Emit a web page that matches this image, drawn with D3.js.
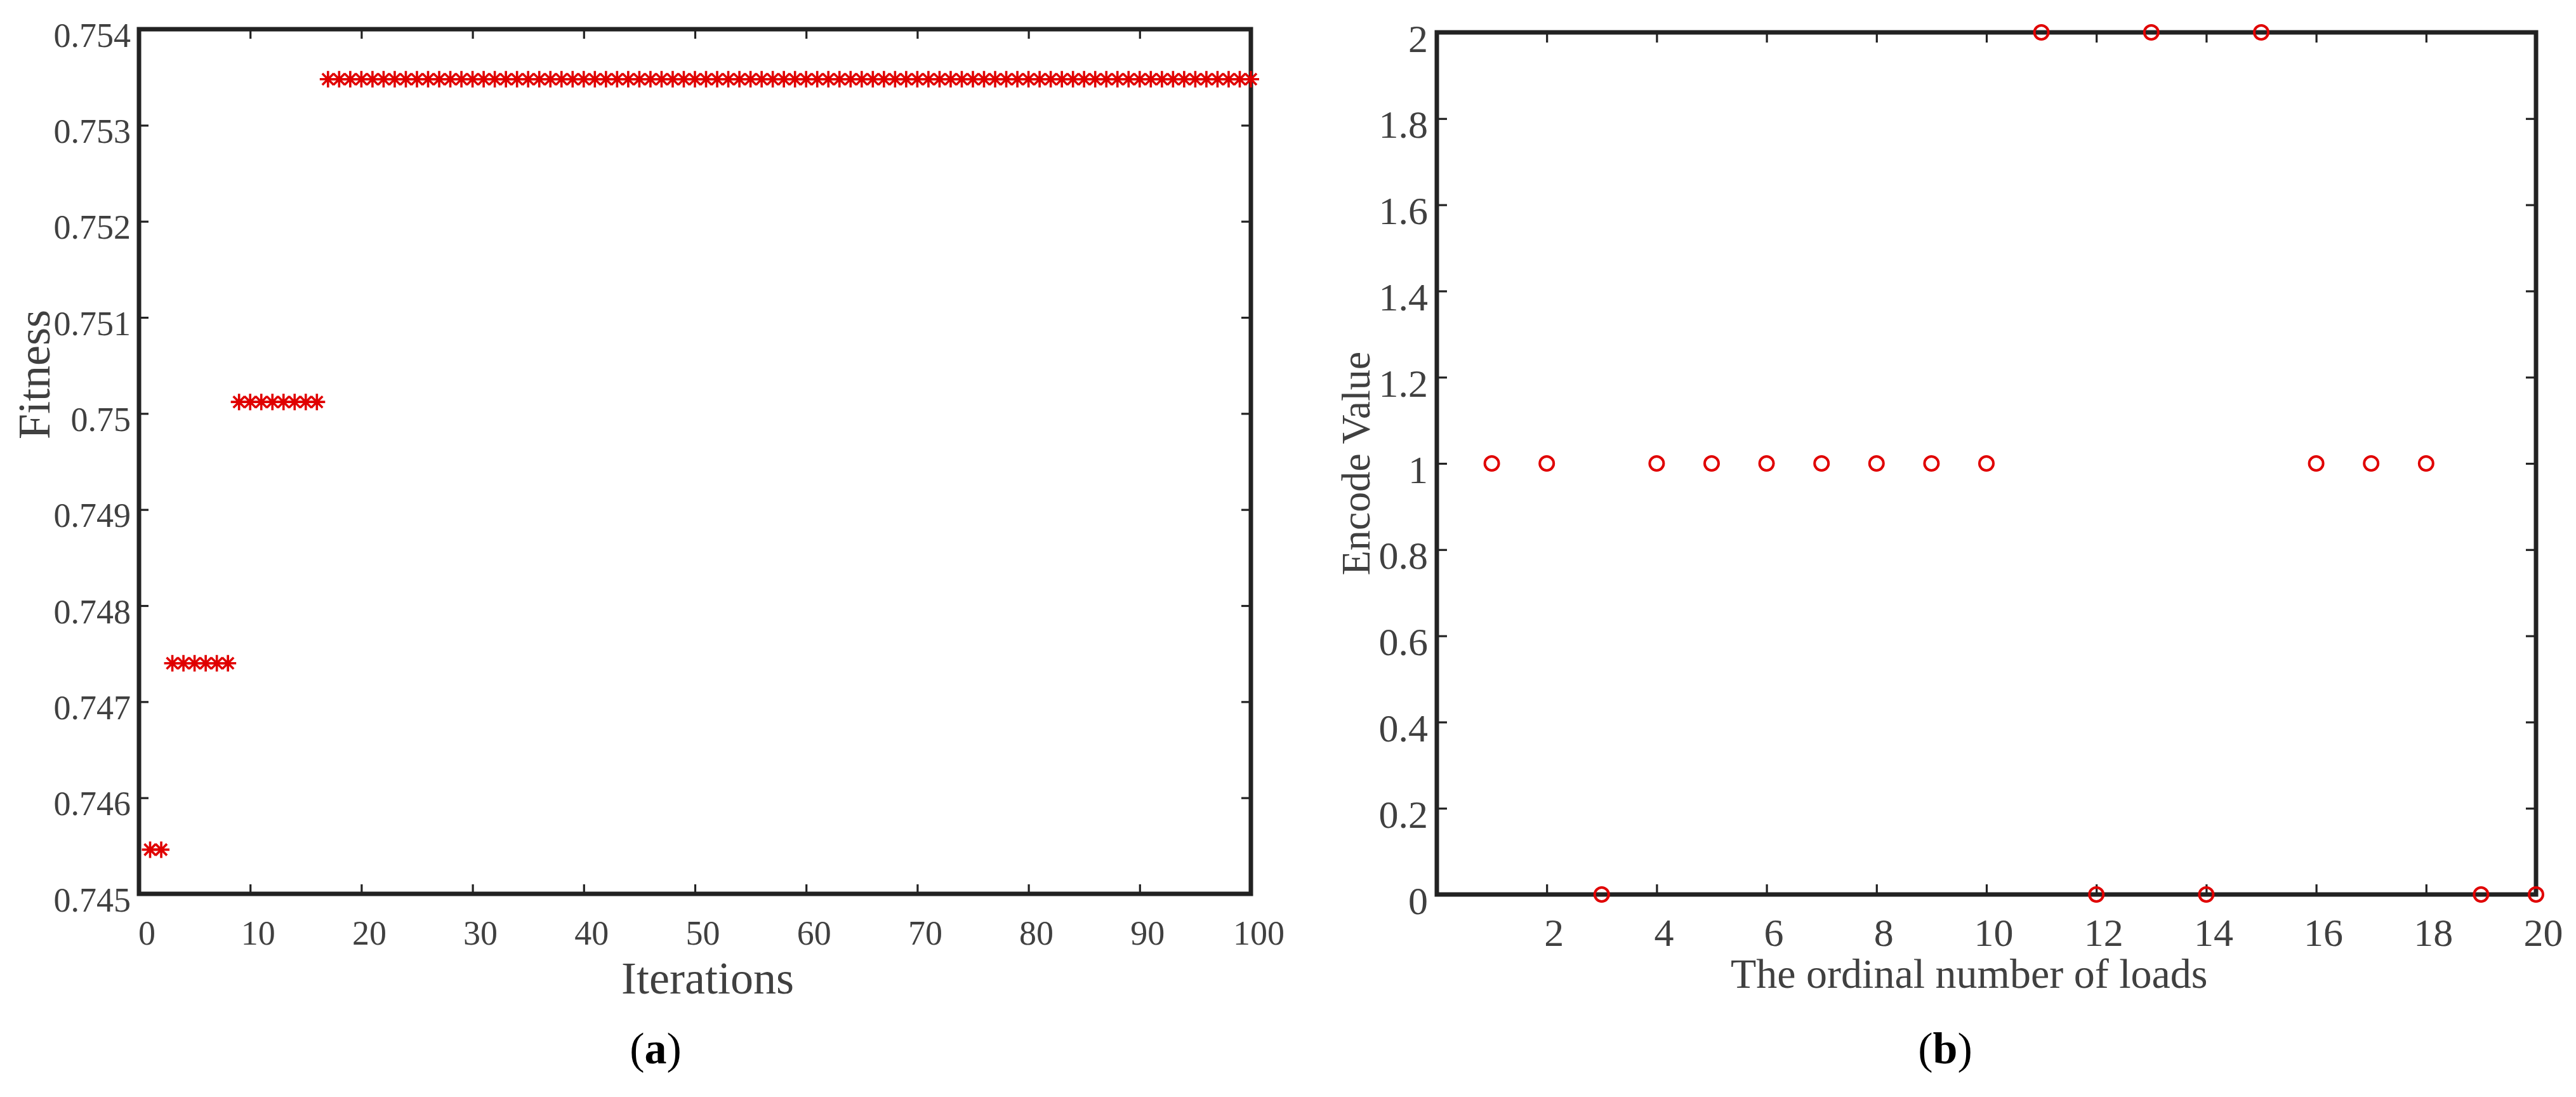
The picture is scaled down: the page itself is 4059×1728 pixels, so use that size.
<!DOCTYPE html>
<html><head><meta charset="utf-8">
<script src="https://cdn.jsdelivr.net/npm/d3@7"></script>
<style>
body{margin:0;background:#fff}
text{font-family:"Liberation Serif","Times New Roman",serif}
</style>
</head><body>
<svg id="c" width="4059" height="1728"></svg>
<script>
// ---- Data: panel (a) ----
const iterations = [1,2,3,4,5,6,7,8,9,10,11,12,13,14,15,16,17,18,19,20,21,22,23,24,25,26,27,28,29,30,31,32,33,34,35,36,37,38,39,40,41,42,43,44,45,46,47,48,49,50,51,52,53,54,55,56,57,58,59,60,61,62,63,64,65,66,67,68,69,70,71,72,73,74,75,76,77,78,79,80,81,82,83,84,85,86,87,88,89,90,91,92,93,94,95,96,97,98,99,100];
const fitness = [
0.74546,0.74546,
0.74740,0.74740,0.74740,0.74740,0.74740,0.74740,
0.75012,0.75012,0.75012,0.75012,0.75012,0.75012,0.75012,0.75012,
0.75348,0.75348,0.75348,0.75348,0.75348,0.75348,0.75348,0.75348,0.75348,0.75348,
0.75348,0.75348,0.75348,0.75348,0.75348,0.75348,0.75348,0.75348,0.75348,0.75348,
0.75348,0.75348,0.75348,0.75348,0.75348,0.75348,0.75348,0.75348,0.75348,0.75348,
0.75348,0.75348,0.75348,0.75348,0.75348,0.75348,0.75348,0.75348,0.75348,0.75348,
0.75348,0.75348,0.75348,0.75348,0.75348,0.75348,0.75348,0.75348,0.75348,0.75348,
0.75348,0.75348,0.75348,0.75348,0.75348,0.75348,0.75348,0.75348,0.75348,0.75348,
0.75348,0.75348,0.75348,0.75348,0.75348,0.75348,0.75348,0.75348,0.75348,0.75348,
0.75348,0.75348,0.75348,0.75348,0.75348,0.75348,0.75348,0.75348,0.75348,0.75348,
0.75348,0.75348,0.75348,0.75348];
const iterTicks = [0,10,20,30,40,50,60,70,80,90,100];
const iterTickLabels = ["0","10","20","30","40","50","60","70","80","90","100"];
const fitTicks = [0.745,0.746,0.747,0.748,0.749,0.75,0.751,0.752,0.753,0.754];
const fitTickLabels = ["0.745","0.746","0.747","0.748","0.749","0.75","0.751","0.752","0.753","0.754"];

// ---- Data: panel (b) ----
const loads = [1,2,3,4,5,6,7,8,9,10,11,12,13,14,15,16,17,18,19,20];
const encode = [1,1,0,1,1,1,1,1,1,1,2,0,2,0,2,1,1,1,0,0];
const loadTicks = [2,4,6,8,10,12,14,16,18,20];
const loadTickLabels = ["2","4","6","8","10","12","14","16","18","20"];
const encTicks = [0,0.2,0.4,0.6,0.8,1,1.2,1.4,1.6,1.8,2];
const encTickLabels = ["0","0.2","0.4","0.6","0.8","1","1.2","1.4","1.6","1.8","2"];

const svg = d3.select("#c");
const AX = "#222222", TXT = "#404040", RED = "#e00000";

function panel(o){
  const g = svg.append("g");
  const [x0,x1] = o.x.range(), [y0,y1] = o.y.range(); // y0 bottom, y1 top
  const tk = (sel)=>sel.selectAll("path.domain").remove();
  const bottom = g.append("g").attr("transform",`translate(0,${y0})`)
    .call(d3.axisBottom(o.x).tickValues(o.xt).tickFormat((d,i)=>o.xl[i]).tickSize(-o.tl).tickPadding(0));
  const top = g.append("g").attr("transform",`translate(0,${y1})`)
    .call(d3.axisTop(o.x).tickValues(o.xt).tickFormat("").tickSize(-o.tl));
  const left = g.append("g").attr("transform",`translate(${x0},0)`)
    .call(d3.axisLeft(o.y).tickValues(o.yt).tickFormat((d,i)=>o.yl[i]).tickSize(-o.tl).tickPadding(0));
  const right = g.append("g").attr("transform",`translate(${x1},0)`)
    .call(d3.axisRight(o.y).tickValues(o.yt).tickFormat("").tickSize(-o.tl));
  [bottom,top,left,right].forEach(a=>{
    tk(a);
    a.selectAll(".tick line").attr("stroke",AX).attr("stroke-width",3.2);
  });
  bottom.selectAll(".tick text").attr("fill",TXT).attr("font-size",o.fs)
    .attr("y",o.xlb).attr("dy",null).attr("dx",o.xdx);
  left.selectAll(".tick text").attr("fill",TXT).attr("font-size",o.fs)
    .attr("x",-o.ylg).attr("dy",null).attr("y",o.ylb).attr("text-anchor","end");
  [top,right].forEach(a=>a.selectAll(".tick text").remove());
  g.append("rect").attr("x",x0).attr("y",y1).attr("width",x1-x0).attr("height",y0-y1)
    .attr("fill","none").attr("stroke",AX).attr("stroke-width",7);
  return g;
}

// ---- Panel (a) ----
const xA = d3.scaleLinear([0,100],[219,1971]);
const yA = d3.scaleLinear([0.745,0.754],[1408,46]);
const gA = panel({x:xA,y:yA,xt:iterTicks,xl:iterTickLabels,yt:fitTicks,yl:fitTickLabels,
  tl:15,fs:54,xlb:80,xdx:12,ylg:13,ylb:27});
const star = "M-13,0H13M0,-13V13M-9,-9L9,9M-9,9L9,-9";
gA.append("g").selectAll("path").data(iterations).join("path")
  .attr("transform",(d,i)=>`translate(${xA(d)},${yA(fitness[i])})`)
  .attr("d",star).attr("stroke",RED).attr("stroke-width",3.6).attr("fill","none");
svg.append("text").attr("x",1115).attr("y",1565).attr("text-anchor","middle")
  .attr("font-size",72).attr("fill",TXT).text("Iterations");
svg.append("text").attr("transform","translate(78,590) rotate(-90)").attr("text-anchor","middle")
  .attr("font-size",72).attr("fill",TXT).text("Fitness");
const ta = svg.append("text").attr("x",1033).attr("y",1675).attr("text-anchor","middle")
  .attr("font-size",70).attr("fill","#000");
ta.append("tspan").text("(");
ta.append("tspan").attr("font-weight","bold").text("a");
ta.append("tspan").text(")");

// ---- Panel (b) ----
const xB = d3.scaleLinear([0,20],[2264,3996]);
const yB = d3.scaleLinear([0,2],[1409,51]);
const gB = panel({x:xB,y:yB,xt:loadTicks,xl:loadTickLabels,yt:encTicks,yl:encTickLabels,
  tl:16,fs:62,xlb:81,xdx:11,ylg:14,ylb:30});
gB.append("g").selectAll("circle").data(loads).join("circle")
  .attr("cx",d=>xB(d)).attr("cy",(d,i)=>yB(encode[i])).attr("r",11)
  .attr("fill","none").attr("stroke",RED).attr("stroke-width",4);
svg.append("text").attr("x",2727).attr("y",1556).attr("text-anchor","start")
  .attr("font-size",66).attr("fill",TXT).text("The ordinal number of loads");
svg.append("text").attr("transform","translate(2158,730) rotate(-90)").attr("text-anchor","middle")
  .attr("font-size",64).attr("fill",TXT).text("Encode Value");
const tb = svg.append("text").attr("x",3065).attr("y",1675).attr("text-anchor","middle")
  .attr("font-size",70).attr("fill","#000");
tb.append("tspan").text("(");
tb.append("tspan").attr("font-weight","bold").text("b");
tb.append("tspan").text(")");
</script>
</body></html>
